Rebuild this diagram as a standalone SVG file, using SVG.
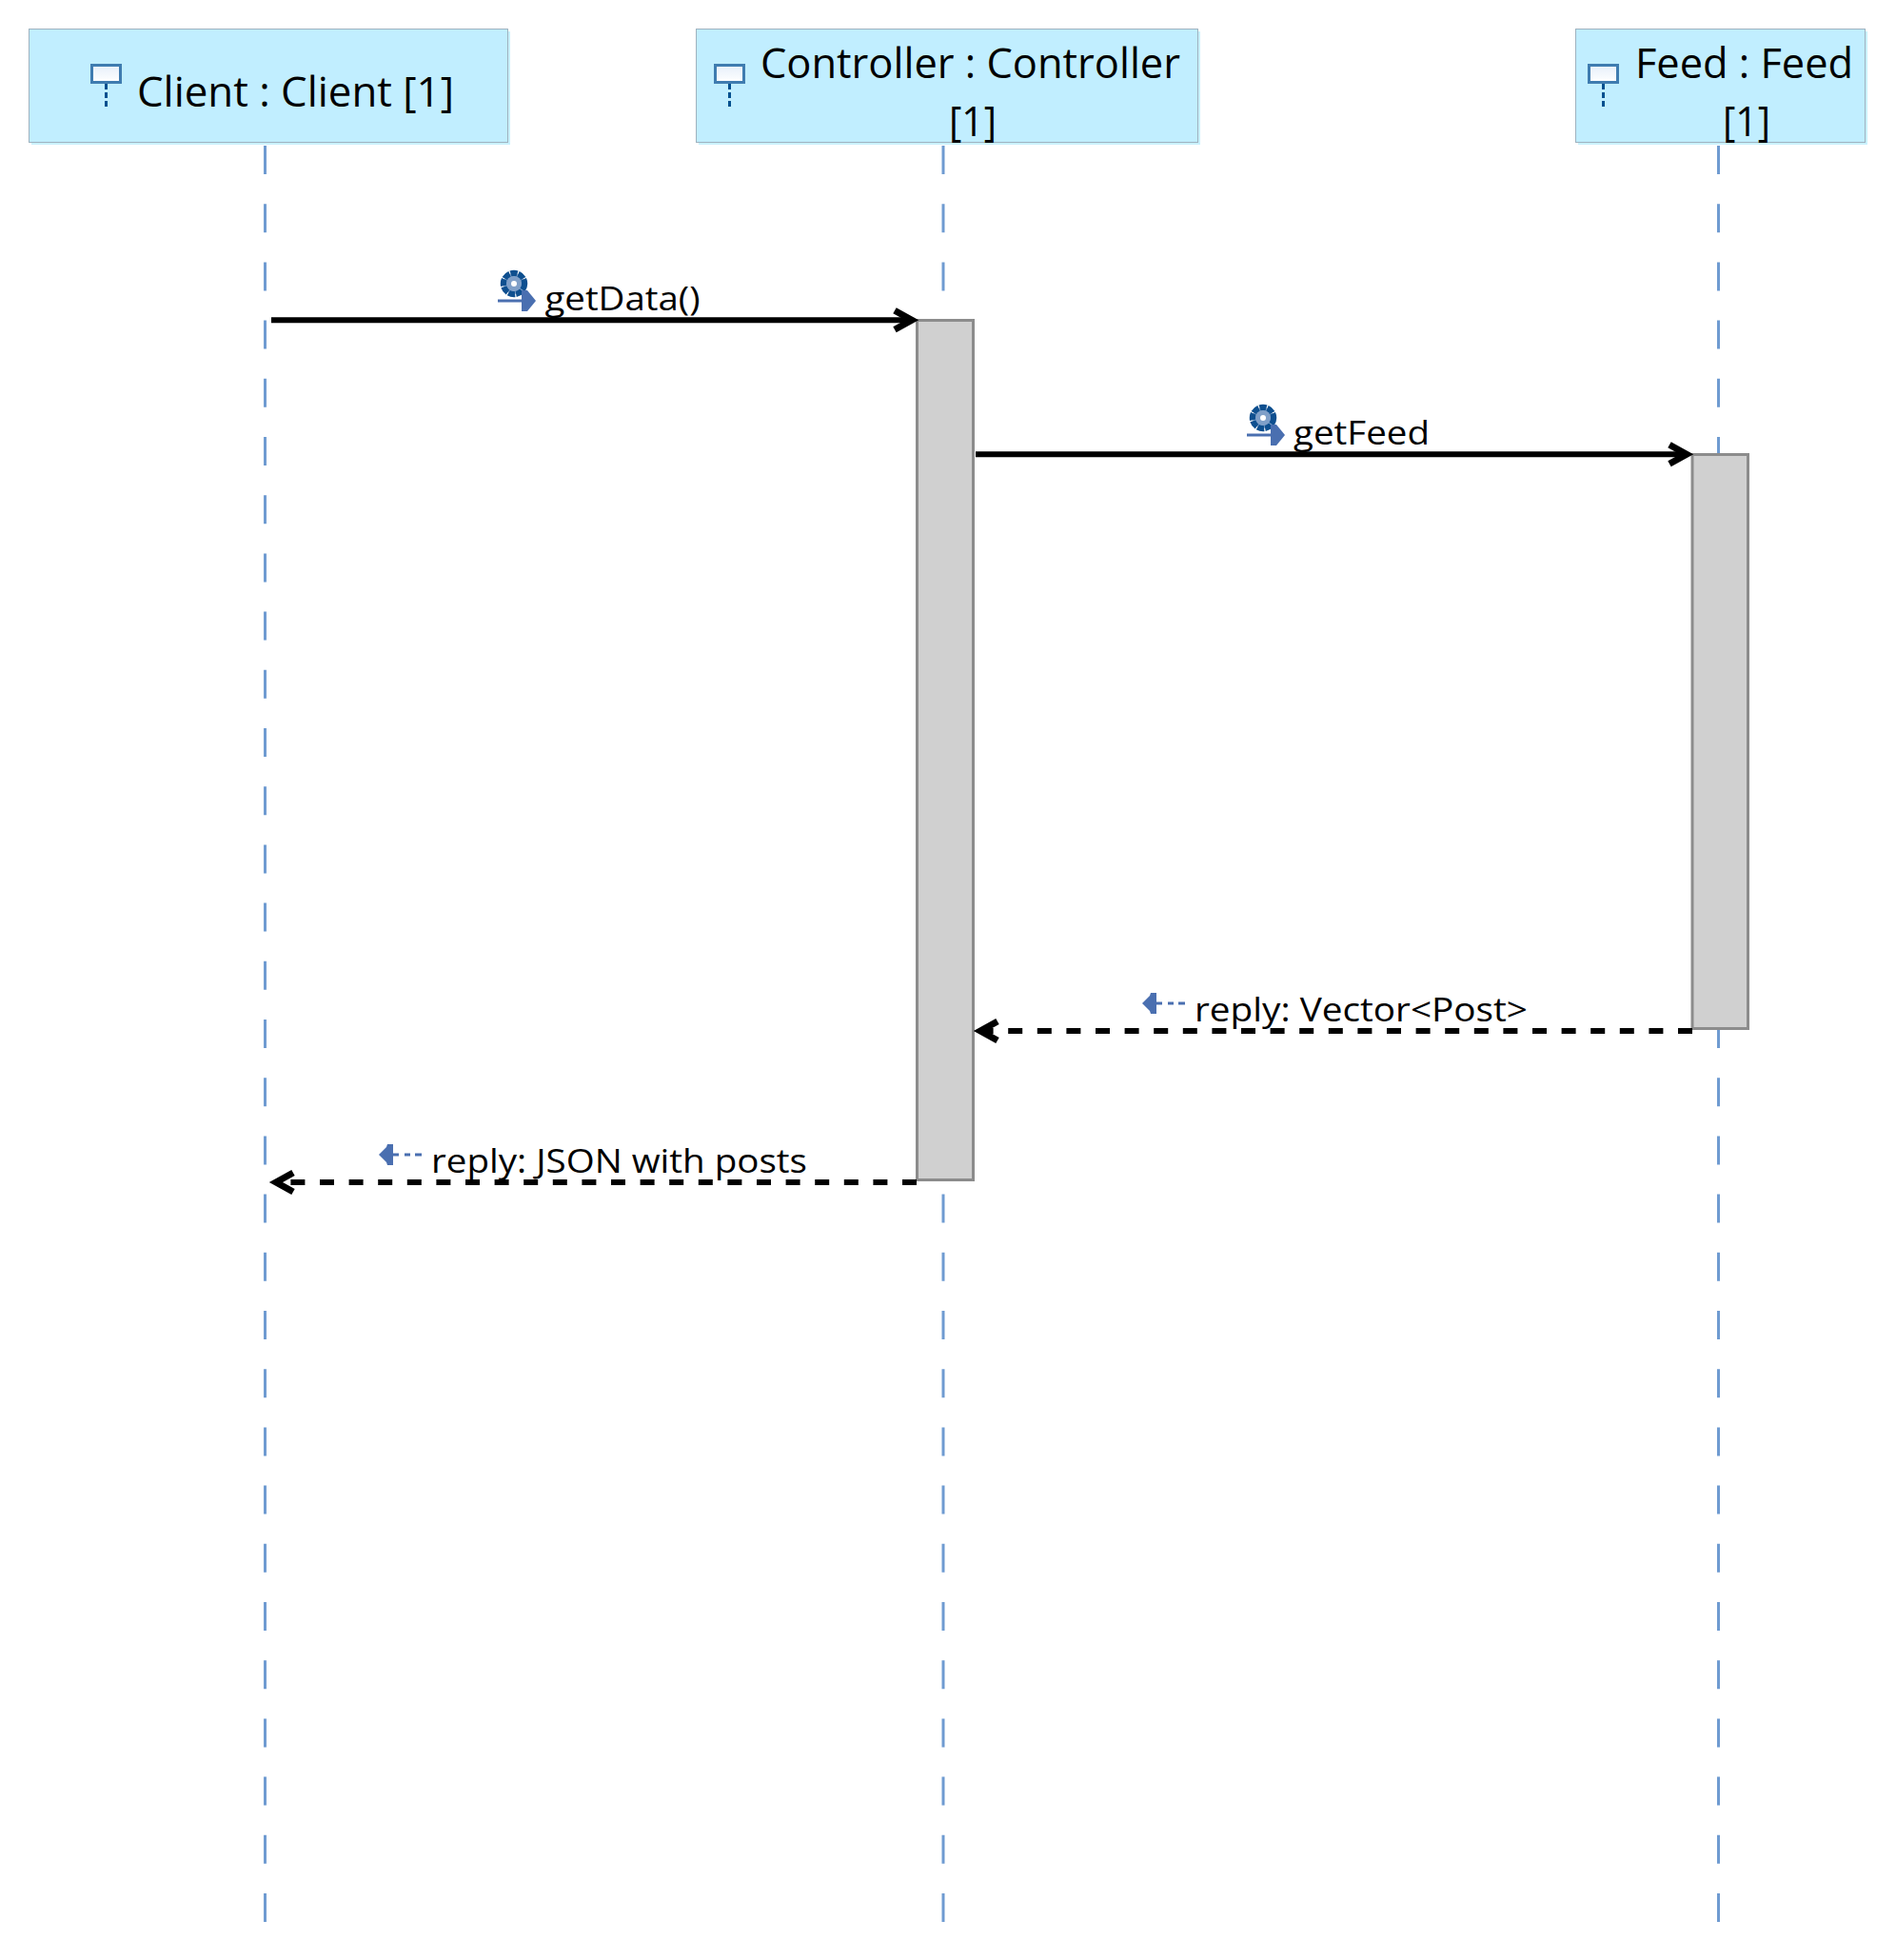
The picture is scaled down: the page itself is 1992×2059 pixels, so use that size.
<svg xmlns="http://www.w3.org/2000/svg" width="1992" height="2059" viewBox="0 0 1992 2059">
<defs>
<linearGradient id="ig" x1="0" y1="0" x2="0" y2="1"><stop offset="0" stop-color="#e6effa"/><stop offset="1" stop-color="#ffffff"/></linearGradient>
<marker id="open" markerUnits="userSpaceOnUse" markerWidth="40" markerHeight="40" refX="27" refY="20" orient="auto"><path d="M9 10 L27 20 L9 30" fill="none" stroke="#000" stroke-width="7"/></marker>
<g id="lifeicon"><rect x="1.5" y="1.5" width="30" height="18" fill="url(#ig)" stroke="#3f7cb0" stroke-width="3"/><line x1="16.5" y1="21" x2="16.5" y2="46" stroke="#00508f" stroke-width="3" stroke-dasharray="6 3"/></g>
<g id="callicon"><circle cx="540" cy="298" r="11" fill="#7f9fc8" stroke="#0e4f8f" stroke-width="6.5" stroke-dasharray="7 1"/><circle cx="540" cy="298" r="8" fill="#7f9fc8"/><circle cx="540" cy="298" r="3" fill="#fff"/><line x1="523" y1="316" x2="552" y2="316" stroke="#4a6fb0" stroke-width="3"/><path d="M548 305 L554 305 L563 316 L554 327 L548 327 Z" fill="#4a6fb0"/></g>
<g id="replyicon"><path d="M1200 1054 L1208 1046 L1209 1043 L1215 1043 L1215 1065 L1209 1065 L1208 1062 Z" fill="#4a6fb0"/><line x1="1210" y1="1054" x2="1245" y2="1054" stroke="#4a6fb0" stroke-width="3" stroke-dasharray="11 6 6 5 7"/></g>
</defs>
<style>
.box{fill:#c1eeff;stroke:#9eb2bf;stroke-width:1}
.sh{fill:#c9f1ff}
.t{font-family:"Open Sans","Noto Sans",sans-serif;fill:#000}
.h{font-size:44px}
.m{font-size:35px}
.life{stroke:#6f9bd1;stroke-width:3;stroke-dasharray:30 31.2;fill:none}
.act{fill:#d0d0d0;stroke:#8c8c8c;stroke-width:3}
.msg{stroke:#000;stroke-width:6;fill:none}
.dash{stroke-dasharray:15 15.6}
</style>
<rect width="1992" height="2059" fill="#fff"/>
<g id="lifelines">
<line class="life" x1="278.5" y1="153" x2="278.5" y2="2020"/>
<line class="life" x1="991" y1="153" x2="991" y2="2020"/>
<line class="life" x1="1805.5" y1="153" x2="1805.5" y2="2020"/>
</g>
<g id="node-client">
<rect class="sh" x="33" y="33" width="503" height="119"/><rect class="box" x="30.5" y="30.5" width="503" height="119"/>
<use href="#lifeicon" x="95" y="67"/>
<text class="t h" x="144" y="112" textLength="333" lengthAdjust="spacingAndGlyphs">Client : Client [1]</text>
</g>
<g id="node-controller">
<rect class="sh" x="734" y="33" width="527" height="119"/><rect class="box" x="731.5" y="30.5" width="527" height="119"/>
<use href="#lifeicon" x="750" y="67"/>
<text class="t h" x="799" y="82" textLength="441" lengthAdjust="spacingAndGlyphs">Controller : Controller</text>
<text class="t h" x="997" y="143" textLength="50" lengthAdjust="spacingAndGlyphs">[1]</text>
</g>
<g id="node-feed">
<rect class="sh" x="1658" y="33" width="304" height="119"/><rect class="box" x="1655.5" y="30.5" width="304" height="119"/>
<use href="#lifeicon" x="1668" y="67"/>
<text class="t h" x="1718" y="82" textLength="229" lengthAdjust="spacingAndGlyphs">Feed : Feed</text>
<text class="t h" x="1810" y="143" textLength="50" lengthAdjust="spacingAndGlyphs">[1]</text>
</g>
<g id="activation-controller"><rect class="act" x="963.5" y="336.5" width="59" height="903"/></g>
<g id="activation-feed"><rect class="act" x="1778" y="477.5" width="58.5" height="603"/></g>
<g id="connectors">
<line class="msg" x1="285" y1="336.3" x2="958" y2="336.3" marker-end="url(#open)"/>
<line class="msg" x1="1025" y1="477.3" x2="1772" y2="477.3" marker-end="url(#open)"/>
<line class="msg dash" x1="1778" y1="1083" x2="1030" y2="1083" marker-end="url(#open)"/>
<line class="msg dash" x1="963" y1="1242" x2="290" y2="1242" marker-end="url(#open)"/>
</g>
<g id="labels">
<use href="#callicon"/>
<text class="t m" x="572.5" y="326" textLength="163" lengthAdjust="spacingAndGlyphs">getData()</text>
<use href="#callicon" x="787" y="141"/>
<text class="t m" x="1359" y="467" textLength="143" lengthAdjust="spacingAndGlyphs">getFeed</text>
<use href="#replyicon"/>
<text class="t m" x="1255" y="1073" textLength="350" lengthAdjust="spacingAndGlyphs">reply: Vector&lt;Post&gt;</text>
<use href="#replyicon" x="-802" y="159"/>
<text class="t m" x="453" y="1232" textLength="395" lengthAdjust="spacingAndGlyphs">reply: JSON with posts</text>
</g>
</svg>
